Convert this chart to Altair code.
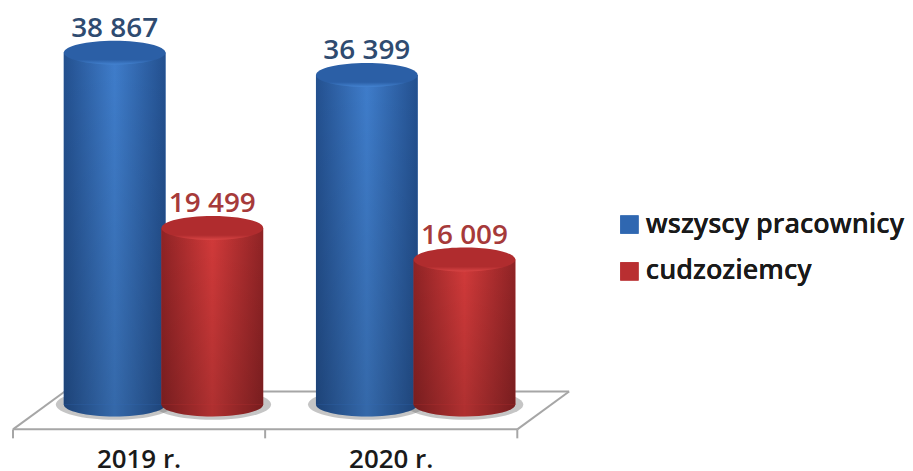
import altair as alt
import pandas as pd

YEARS = ["2019 r.", "2020 r."]
SERIES = ["wszyscy pracownicy", "cudzoziemcy"]
ALL_WORKERS = [38867, 36399]
FOREIGNERS = [19499, 16009]
LABELS_ALL = ["38 867", "36 399"]
LABELS_FOREIGN = ["19 499", "16 009"]
BASE_COLORS = ["#2F67B1", "#B92F31"]
TEXT_COLORS = ["#2F4B70", "#A63A3A"]

rows = []
for i, y in enumerate(YEARS):
    rows.append({"year": y, "series": SERIES[0], "value": ALL_WORKERS[i], "label": LABELS_ALL[i], "zero": 0})
    rows.append({"year": y, "series": SERIES[1], "value": FOREIGNERS[i], "label": LABELS_FOREIGN[i], "zero": 0})
df = pd.DataFrame(rows)

W, H = 506, 422
FONT = "Open Sans"
ELLIPSE = "M-1,0 A1,0.235 0 1 1 1,0 A1,0.235 0 1 1 -1,0 Z"
SHADOW = "M-1,0 A1,0.26 0 1 1 1,0 A1,0.26 0 1 1 -1,0 Z"
BAR_W = 102

x = alt.X("year:N", sort=YEARS, scale=alt.Scale(domain=YEARS, paddingInner=0, paddingOuter=0),
          axis=alt.Axis(title=None, labelAngle=0, ticks=False, domain=False, labelFont=FONT,
                        labelFontSize=26, labelFontWeight=600, labelColor="#1a1a1a", labelPadding=17, grid=False))
xo = alt.XOffset("series:N", sort=SERIES, scale=alt.Scale(domain=SERIES, range=[53, 249]))
y = alt.Y("value:Q", scale=alt.Scale(domain=[-2753, 43711], nice=False, zero=False), axis=None)
ybase = alt.Y("zero:Q", scale=alt.Scale(domain=[-2753, 43711], nice=False, zero=False), axis=None)


def hgrad(edge, mid):
    return alt.Gradient(gradient="linear", x1=0, x2=1, y1=0, y2=0,
                        stops=[alt.GradientStop(color=edge, offset=0),
                               alt.GradientStop(color=mid, offset=0.5),
                               alt.GradientStop(color=edge, offset=1)])


def topgrad(top, rim):
    return alt.Gradient(gradient="linear", x1=0, x2=0, y1=0, y2=1,
                        stops=[alt.GradientStop(color=top, offset=0),
                               alt.GradientStop(color=top, offset=0.8),
                               alt.GradientStop(color=rim, offset=1)])


shade = alt.Gradient(gradient="linear", x1=0, x2=0, y1=0, y2=1,
                     stops=[alt.GradientStop(color="rgba(0,0,0,0)", offset=0),
                            alt.GradientStop(color="rgba(0,0,0,0.16)", offset=1)])

STYLE = {
    SERIES[0]: dict(edge="#23508F", mid="#3F7DCB", top="#2B5FA6", rim="#4382D0"),
    SERIES[1]: dict(edge="#8F2325", mid="#D23A3A", top="#B02C2E", rim="#D84444"),
}


def rule(x1, y1, x2, y2):
    return alt.Chart(df.head(1)).mark_rule(color="#A6A6A6", strokeWidth=2).encode(
        x=alt.value(x1), y=alt.value(y1), x2=alt.value(x2), y2=alt.value(y2))


floor = [
    rule(0, 422, 506, 422), rule(506, 422, 558, 384), rule(558, 384, 52, 384), rule(52, 384, 0, 422),
    rule(0, 422, 0, 431), rule(253, 422, 253, 431), rule(506, 422, 506, 431),
]

layers = list(floor)

layers.append(alt.Chart(df).mark_point(shape=SHADOW, filled=True, color="#6F6F6F", opacity=0.4, size=(BAR_W + 16) ** 2)
              .encode(x=x, xOffset=xo, y=ybase))

for s in SERIES:
    st = STYLE[s]
    base = alt.Chart(df).transform_filter(alt.datum.series == s)
    g = hgrad(st["edge"], st["mid"])
    layers += [
        base.mark_point(shape=ELLIPSE, filled=True, opacity=1, fill=g, size=BAR_W ** 2).encode(x=x, xOffset=xo, y=ybase),
        base.mark_point(shape=ELLIPSE, filled=True, opacity=0.16, color="black", size=BAR_W ** 2).encode(x=x, xOffset=xo, y=ybase),
        base.mark_bar(size=BAR_W).encode(
            x=x, xOffset=xo, y=y, y2=alt.Y2("zero:Q"),
            color=alt.Color("series:N", sort=SERIES,
                            scale=alt.Scale(domain=SERIES, range=BASE_COLORS),
                            legend=alt.Legend(title=None, orient="none", legendX=605, legendY=203,
                                              symbolType="square", symbolSize=340, symbolStrokeWidth=0,
                                              labelFont=FONT, labelFontSize=27, labelFontWeight=600,
                                              labelColor="#1a1a1a", rowPadding=19, labelOffset=3,
                                              labelLimit=320))),
        base.mark_bar(size=BAR_W, fill=g).encode(x=x, xOffset=xo, y=y, y2=alt.Y2("zero:Q")),
        base.mark_bar(size=BAR_W, fill=shade).encode(x=x, xOffset=xo, y=y, y2=alt.Y2("zero:Q")),
        base.mark_point(shape=ELLIPSE, filled=True, opacity=1, fill=topgrad(st["top"], st["rim"]), strokeWidth=0,
                        size=BAR_W ** 2).encode(x=x, xOffset=xo, y=y),
    ]

layers.append(alt.Chart(df).mark_text(font=FONT, fontSize=28, fontWeight=600, baseline="alphabetic", dy=-16).encode(
    x=x, xOffset=xo, y=y, text="label:N",
    color=alt.Color("series:N", scale=alt.Scale(domain=SERIES, range=TEXT_COLORS), legend=None)))

chart = (alt.layer(*layers)
         .resolve_scale(color="independent")
         .properties(width=W, height=H, padding={"left": 4, "top": 0, "right": 0, "bottom": 0}, background="white")
         .configure_view(stroke=None))

chart.save("out.html", embed_options={"renderer": "svg", "actions": False})
